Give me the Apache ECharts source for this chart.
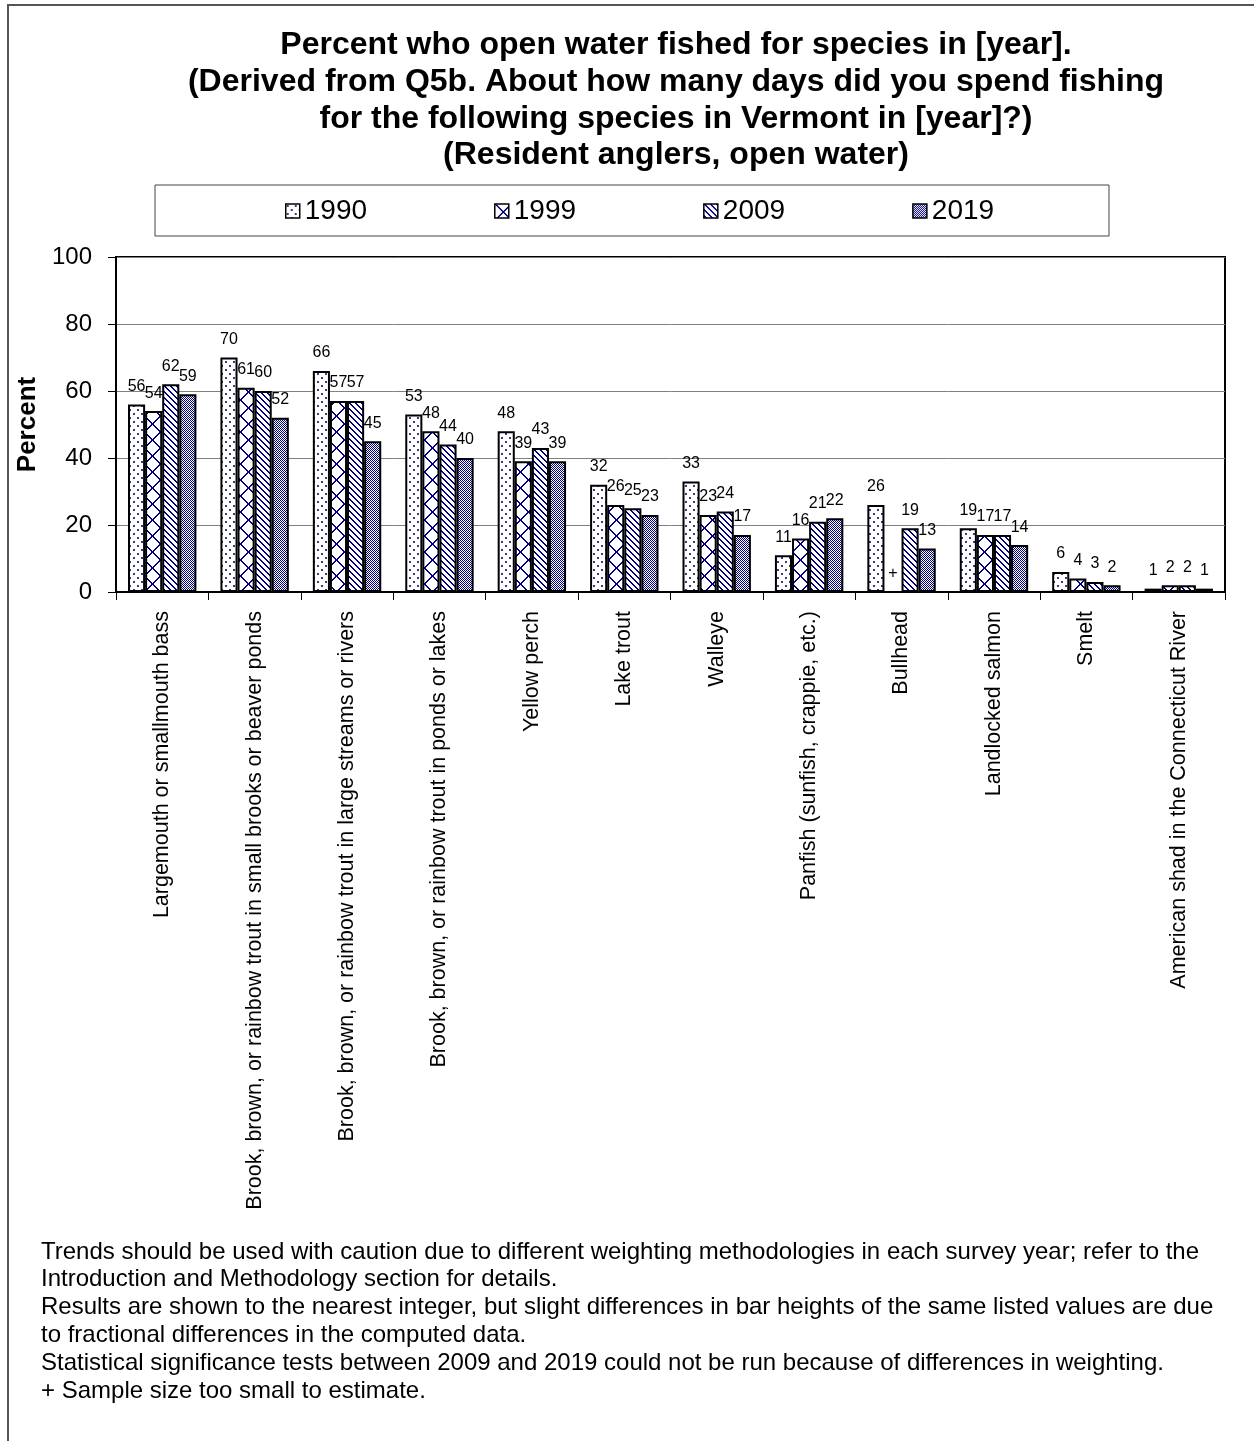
<!DOCTYPE html>
<html>
<head>
<meta charset="utf-8">
<title>Percent who open water fished for species</title>
<script src="https://cdn.jsdelivr.net/npm/echarts@6/dist/echarts.min.js"></script>
<style>
  html, body { margin: 0; padding: 0; background: #fff; }
  #chart { width: 1254px; height: 1441px; }
</style>
</head>
<body>
<div id="chart"></div>
<script>
// Species categories (x axis)
const categories = [
  'Largemouth or smallmouth bass',
  'Brook, brown, or rainbow trout in small brooks or beaver ponds',
  'Brook, brown, or rainbow trout in large streams or rivers',
  'Brook, brown, or rainbow trout in ponds or lakes',
  'Yellow perch',
  'Lake trout',
  'Walleye',
  'Panfish (sunfish, crappie, etc.)',
  'Bullhead',
  'Landlocked salmon',
  'Smelt',
  'American shad in the Connecticut River'
];

// Percent of resident anglers by survey year (null = sample too small)
const years = ['1990', '1999', '2009', '2019'];
const values1990 = [56, 70, 66, 53, 48, 32, 33, 11, 26, 19, 6, 1];
const values1999 = [54, 61, 57, 48, 39, 26, 23, 16, null, 17, 4, 2];
const values2009 = [62, 60, 57, 44, 43, 25, 24, 21, 19, 17, 3, 2];
const values2019 = [59, 52, 45, 40, 39, 23, 17, 22, 13, 14, 2, 1];

const yTicks = [0, 20, 40, 60, 80, 100];

const titleLines = [
  'Percent who open water fished for species in [year].',
  '(Derived from Q5b. About how many days did you spend fishing',
  'for the following species in Vermont in [year]?)',
  '(Resident anglers, open water)'
];

const noteLines = [
  'Trends should be used with caution due to different weighting methodologies in each survey year; refer to the',
  'Introduction and Methodology section for details.',
  'Results are shown to the nearest integer, but slight differences in bar heights of the same listed values are due',
  'to fractional differences in the computed data.',
  'Statistical significance tests between 2009 and 2019 could not be run because of differences in weighting.',
  '+ Sample size too small to estimate.'
];

const NAVY = '#000080';
const FONT = 'Arial, "Liberation Sans", sans-serif';

// Fill patterns drawn pixel by pixel on small tiles
function makeTile(size, draw) {
  const c = document.createElement('canvas');
  c.width = size; c.height = size;
  const g = c.getContext('2d');
  g.fillStyle = '#fff';
  g.fillRect(0, 0, size, size);
  g.fillStyle = NAVY;
  draw(g, size);
  return { image: c, repeat: 'repeat' };
}

// 1990: sparse staggered dots
const patternDots = makeTile(8, (g) => {
  g.fillStyle = '#3a3a88';
  g.fillRect(1, 1, 2, 2);
  g.fillRect(5, 5, 2, 2);
});

// 1999: zigzag lattice
const patternLattice = makeTile(16, (g, s) => {
  for (let i = 0; i < s; i++) {
    g.fillRect(i, i, 2, 1);
    g.fillRect((s - 1 - i + s) % s, i, 2, 1);
  }
});

// 2009: descending diagonal lines
const patternDiag = makeTile(6, (g, s) => {
  for (let i = 0; i < s; i++) {
    g.fillRect(i, i, 1, 1);
    g.fillRect((i + 1) % s, i, 1, 1);
  }
});

// 2019: fine checkerboard
const patternChecker = makeTile(2, (g) => {
  g.fillRect(0, 0, 1, 1);
  g.fillRect(1, 1, 1, 1);
});

const patterns = [patternDots, patternLattice, patternDiag, patternChecker];
const seriesValues = [values1990, values1999, values2009, values2019];

// A missing estimate keeps its slot but shows only a "+" marker
function toData(arr) {
  return arr.map((v) => {
    if (v === null) {
      return {
        value: 0,
        itemStyle: { borderWidth: 0, color: 'rgba(0,0,0,0)' },
        label: { show: true, formatter: '+', color: '#000' }
      };
    }
    return v;
  });
}

const series = years.map((name, i) => ({
  name: name,
  type: 'bar',
  barGap: '0%',
  barCategoryGap: '26%',
  data: toData(seriesValues[i]),
  itemStyle: {
    color: patterns[i],
    borderColor: '#000',
    borderWidth: 2
  },
  label: {
    show: true,
    position: 'top',
    distance: 10,
    color: '#000',
    fontFamily: FONT,
    fontSize: 16
  },
  emphasis: { disabled: true },
  animation: false
}));

const chart = echarts.init(document.getElementById('chart'), null, { renderer: 'canvas' });

const graphics = [
  // page frame (left and top edges)
  {
    type: 'polyline',
    shape: { points: [[8, 1441], [8, 5], [1254, 5]] },
    style: { stroke: '#555', lineWidth: 2, fill: null },
    silent: true
  },
  // legend box
  {
    type: 'rect',
    shape: { x: 155, y: 185, width: 954, height: 51 },
    style: { stroke: '#444', lineWidth: 1, fill: '#fff' },
    z: 0,
    silent: true
  },
  {
    type: 'text',
    x: 676,
    y: 27,
    style: {
      text: titleLines.join('\n'),
      font: 'bold 32px ' + FONT,
      fill: '#000',
      align: 'center',
      lineHeight: 36.7
    },
    silent: true
  },
  {
    type: 'text',
    x: 41,
    y: 1238,
    style: {
      text: noteLines.join('\n'),
      font: '24px ' + FONT,
      fill: '#000',
      align: 'left',
      lineHeight: 27.8
    },
    silent: true
  }
];

chart.setOption({
  animation: false,
  backgroundColor: '#fff',
  textStyle: { fontFamily: FONT },
  legend: {
    data: years,
    left: 280,
    top: 192,
    itemWidth: 14,
    itemHeight: 14,
    itemGap: 127,
    icon: 'rect',
    selectedMode: false,
    textStyle: { fontSize: 28, color: '#000', fontFamily: FONT },
    itemStyle: { borderColor: '#000', borderWidth: 1.5 },
    z: 5
  },
  grid: {
    left: 116,
    right: 29,
    top: 257,
    bottom: 849,
    show: true,
    borderColor: '#000',
    borderWidth: 2,
    backgroundColor: 'transparent',
    containLabel: false
  },
  xAxis: {
    type: 'category',
    data: categories,
    axisLine: { lineStyle: { color: '#000', width: 2 } },
    axisTick: { show: true, alignWithLabel: false, length: 8, lineStyle: { color: '#000', width: 1 } },
    axisLabel: {
      rotate: 90,
      margin: 19,
      interval: 0,
      fontSize: 21.5,
      color: '#000',
      fontFamily: FONT
    }
  },
  yAxis: {
    type: 'value',
    min: yTicks[0],
    max: yTicks[yTicks.length - 1],
    interval: yTicks[1] - yTicks[0],
    name: 'Percent',
    nameLocation: 'middle',
    nameGap: 71,
    nameRotate: 90,
    nameTextStyle: { fontSize: 26, fontWeight: 'bold', color: '#000', fontFamily: FONT },
    axisLine: { show: true, lineStyle: { color: '#000', width: 2 } },
    axisTick: { show: true, length: 8, lineStyle: { color: '#000', width: 1 } },
    axisLabel: { fontSize: 24, color: '#000', margin: 24, fontFamily: FONT },
    splitLine: { show: true, lineStyle: { color: '#808080', width: 1 } }
  },
  series: series,
  graphic: graphics
});
</script>
</body>
</html>
